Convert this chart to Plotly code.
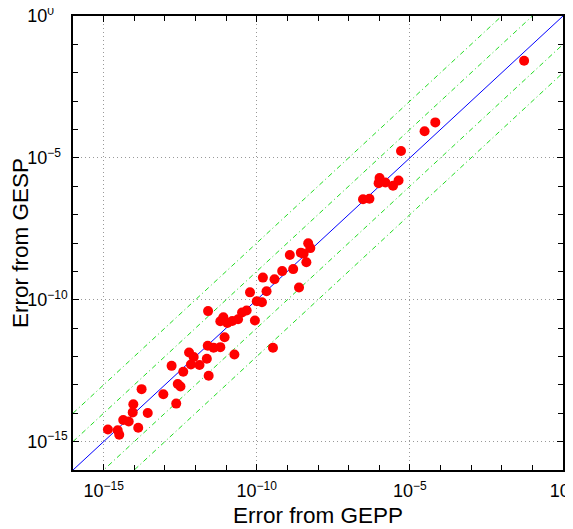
import numpy as np
import plotly.graph_objects as go

# log10 of errors
log_gepp = [-1.27, -4.17, -4.52, -5.29, -5.99, -6.02, -5.80, -5.55, -5.37, -6.53, -6.32,
            -8.32, -8.25, -8.56, -8.47, -8.92, -8.38, -8.81, -9.17, -9.80, -9.42, -8.62,
            -9.68, -10.22, -10.00, -9.83, -10.33, -10.48, -11.59, -10.06, -10.61, -10.80,
            -10.96, -11.09, -11.19, -11.05, -11.60, -11.41, -11.19, -10.73, -9.47, -11.63,
            -12.21, -12.06, -12.15, -11.87, -12.78, -12.40, -11.57, -12.58, -12.49, -13.05,
            -13.76, -14.03, -12.63, -14.05, -13.56, -14.36, -14.18, -14.86, -14.54, -14.49,
            -13.87]
log_gesp = [-1.58, -3.75, -4.06, -4.76, -5.71, -5.89, -5.87, -5.98, -5.80, -6.46, -6.44,
            -8.01, -8.18, -8.34, -8.38, -8.42, -8.68, -8.92, -8.99, -9.22, -9.28, -9.57,
            -9.70, -9.74, -10.05, -10.09, -10.38, -10.45, -10.40, -10.73, -10.69, -10.75,
            -10.82, -10.62, -10.76, -11.32, -11.62, -11.69, -11.67, -11.93, -11.69, -12.08,
            -11.86, -12.02, -12.28, -12.30, -12.33, -12.54, -12.68, -12.97, -13.06, -13.33,
            -13.15, -13.68, -13.66, -13.97, -13.99, -14.24, -14.29, -14.57, -14.60, -14.76,
            -14.51]

gepp = 10.0 ** np.array(log_gepp)
gesp = 10.0 ** np.array(log_gesp)

ref_offsets = [2, 1, -1, -2]          # decades of the dashed guide lines
line_ends = [1e-16, 1e0]

major_vals = [1e-15, 1e-10, 1e-5, 1e0]
major_exps = ["−15", "−10", "−5", "0"]
y_pads = ["", "", "1", "−5"]          # invisible padding so y labels line up on the left
minor_vals = [10.0 ** k for k in range(-16, 1)]

SUP = "<span style='font-size:12px'>%s</span>"
PAD = "<span style='font-size:12px;color:white'>%s</span>"
x_text = ["10<sup>" + SUP % e + "</sup>" for e in major_exps]
y_text = ["10<sup>" + SUP % e + (PAD % p if p else "") + "</sup>"
          for e, p in zip(major_exps, y_pads)]

FONT = "Liberation Sans, Arial"

fig = go.Figure()

for k in ref_offsets:
    fig.add_trace(go.Scatter(
        x=line_ends, y=[v * 10.0 ** k for v in line_ends], mode="lines",
        line=dict(color="#22dd22", width=1, dash="5px,3px,1px,3px"),
        showlegend=False, hoverinfo="skip"))

fig.add_trace(go.Scatter(x=line_ends, y=line_ends, mode="lines",
                         line=dict(color="#0000ff", width=1), showlegend=False))

fig.add_trace(go.Scatter(x=gepp, y=gesp, mode="markers",
                         marker=dict(color="#ff0000", size=10, line=dict(width=0)),
                         showlegend=False))

axis_common = dict(
    type="log", range=[-16, 0], automargin=False,
    tickmode="array", tickvals=major_vals,
    ticks="inside", ticklen=6, tickwidth=1, tickcolor="black",
    showline=True, linecolor="black", linewidth=1.5, mirror="ticks",
    showgrid=True, gridcolor="#999999", griddash="1px,3px", gridwidth=1,
    zeroline=False, ticklabeloverflow="allow",
    tickfont=dict(family=FONT, size=18, color="black"),
    minor=dict(tickmode="array", tickvals=minor_vals, ticks="inside", ticklen=5,
               tickcolor="black", showgrid=False),
)

fig.update_xaxes(**axis_common, ticktext=x_text, ticklabelstandoff=4,
                 title=dict(text="Error from GEPP", standoff=7,
                            font=dict(family=FONT, size=22.5, color="black")))
fig.update_yaxes(**axis_common, ticktext=y_text,
                 title=dict(text="Error from GESP", standoff=0,
                            font=dict(family=FONT, size=22.5, color="black")))

fig.update_layout(
    width=565, height=521,
    margin=dict(l=65, r=10, t=8, b=59),
    plot_bgcolor="white", paper_bgcolor="white",
)

fig.write_html("out.html")
